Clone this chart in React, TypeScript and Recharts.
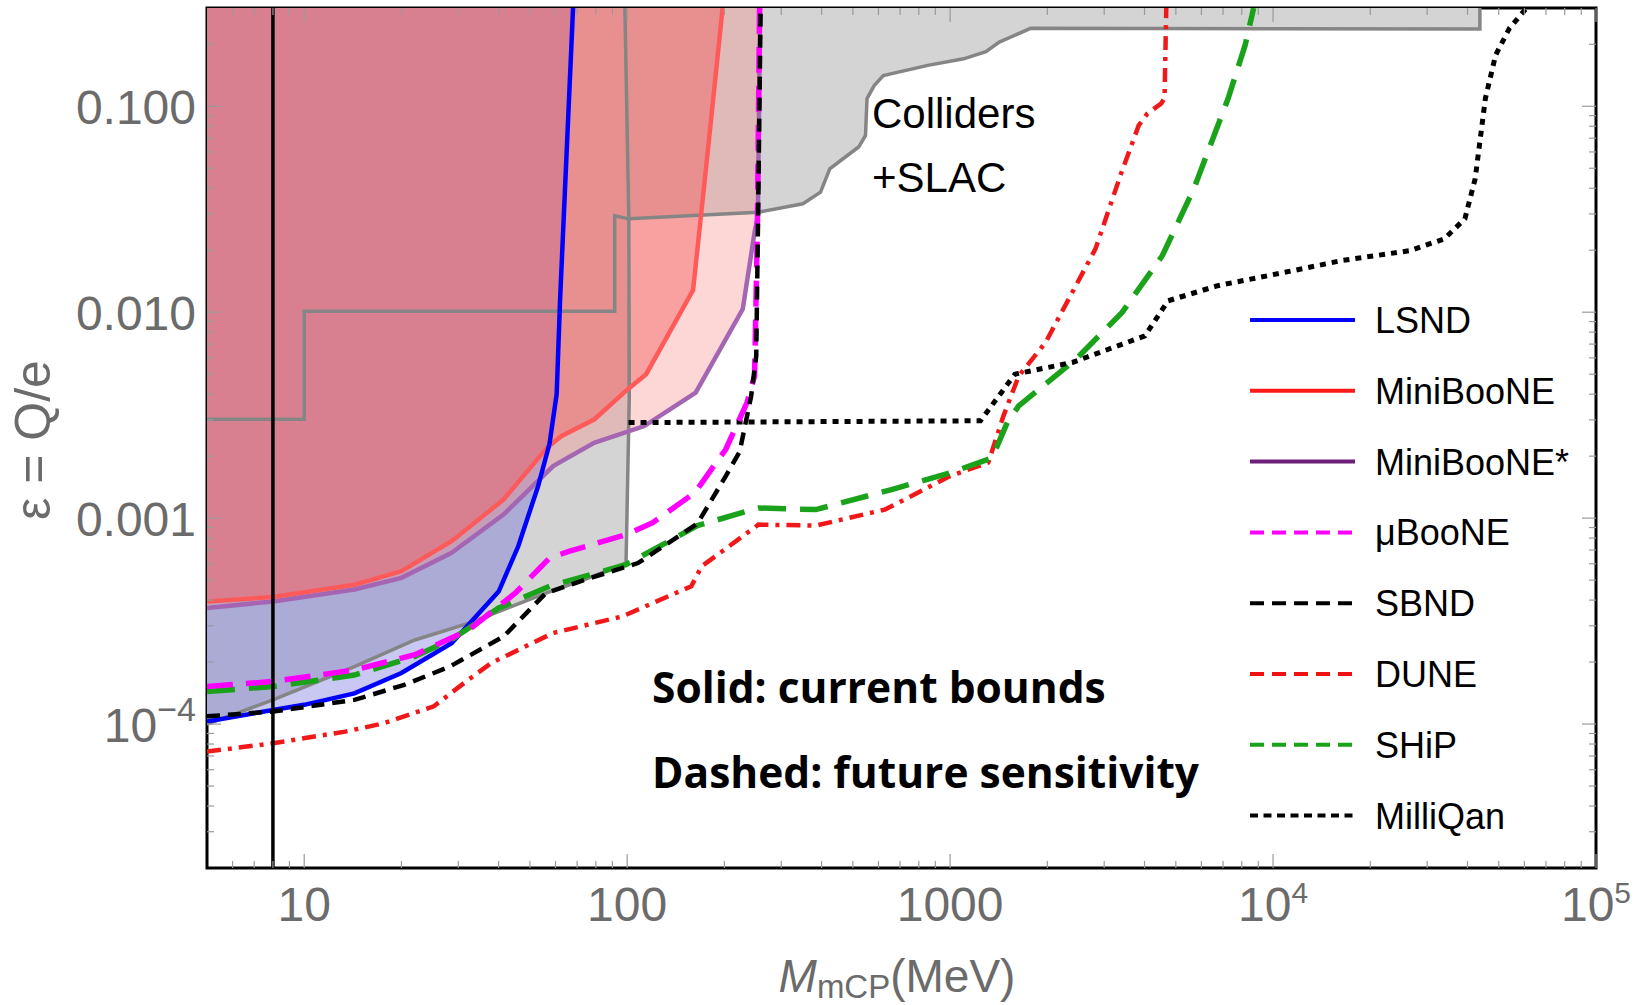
import React from "react";
import { ComposedChart, Area, Line, XAxis, YAxis, ReferenceLine, Customized } from "recharts";

// [mass in MeV, epsilon]
const EPS_TOP = 0.3;

const LSND = [[5, 1.03e-4], [8, 1.17e-4], [10, 1.24e-4], [14.3, 1.41e-4], [20, 1.77e-4], [28.6, 2.47e-4], [40, 4.4e-4], [46, 7.3e-4], [53, 1.43e-3], [57.5, 2.3e-3], [60.5, 4.0e-3], [62, 1.16e-2], [68, 0.3]];
const MINIBOONE = [[5, 3.94e-4], [8, 4.14e-4], [14.3, 4.75e-4], [20, 5.52e-4], [28.6, 7.72e-4], [41.4, 1.23e-3], [56.6, 2.2e-3], [62.5, 2.5e-3], [79.2, 3.02e-3], [100.5, 4.23e-3], [114.5, 5.0e-3], [160, 1.28e-2], [178, 6.2e-2], [197.5, 0.3]];
const MINIBOONE_STAR = [[5, 3.66e-4], [8, 3.94e-4], [14.3, 4.5e-4], [20, 5.13e-4], [28.6, 6.78e-4], [41.4, 1.04e-3], [59, 1.79e-3], [79, 2.32e-3], [113, 2.8e-3], [163, 4.07e-3], [228, 1.035e-2], [248, 2.44e-2], [254, 2.94e-2], [258, 0.3]];
const SLAC = [[5, 1.0e-4], [8, 1.31e-4], [14.3, 1.9e-4], [22, 2.56e-4], [32.4, 3.09e-4], [56, 4.32e-4], [73.4, 5.02e-4], [99.2, 6.05e-4], [101.5, 3.8e-3], [101.2, 2.84e-2], [98.4, 0.3]];
const COLLIDERS = [[5, 3.02e-3], [10, 3.02e-3], [10, 1.01e-2], [91.5, 1.01e-2], [91.5, 2.94e-2], [101, 2.84e-2], [255, 3.06e-2], [350, 3.36e-2], [397, 3.83e-2], [424, 4.97e-2], [466, 5.56e-2], [521, 6.34e-2], [547, 7.22e-2], [553, 0.109], [582, 0.126], [621, 0.141], [853, 0.158], [1101, 0.17], [1291, 0.184], [1420, 0.205], [1775, 0.239], [43700, 0.237], [43700, 0.3]];
const UBOONE = [[5, 1.52e-4], [8, 1.61e-4], [14.3, 1.83e-4], [22, 2.17e-4], [32.4, 2.87e-4], [45, 4.32e-4], [57.5, 6.4e-4], [66, 6.9e-4], [99, 8.3e-4], [120, 9.5e-4], [162, 1.33e-3], [202, 2.16e-3], [235, 3.64e-3], [248, 4.9e-3], [253, 2.5e-2], [257, 0.3]];
const SBND = [[5, 1.09e-4], [8, 1.15e-4], [14.3, 1.31e-4], [20.4, 1.55e-4], [28.2, 1.9e-4], [41.4, 2.66e-4], [56, 4.32e-4], [73.4, 5.0e-4], [108, 6.05e-4], [165, 9.4e-4], [202, 1.6e-3], [223, 2.1e-3], [242, 3.9e-3], [251, 6.1e-3], [254, 2.5e-2], [259, 0.3]];
const DUNE = [[5, 7.35e-5], [8, 8.07e-5], [13.4, 9.19e-5], [17.7, 1.01e-4], [25.2, 1.22e-4], [32.2, 1.64e-4], [38, 1.98e-4], [59, 2.77e-4], [96.5, 3.33e-4], [158, 4.67e-4], [170, 5.83e-4], [255, 9.3e-4], [384, 9.2e-4], [628, 1.1e-3], [1000, 1.6e-3], [1313, 1.86e-3], [1462, 3.13e-3], [1631, 4.9e-3], [1975, 7.13e-3], [2819, 2.03e-2], [3396, 4.79e-2], [3837, 8.07e-2], [4080, 9.2e-2], [4500, 0.103], [4613, 0.109], [4670, 0.3]];
const SHIP = [[5, 1.44e-4], [8, 1.52e-4], [14.3, 1.73e-4], [22, 2.13e-4], [29, 2.61e-4], [40, 3.66e-4], [57.5, 4.67e-4], [99, 5.94e-4], [165, 9.2e-4], [255, 1.12e-3], [384, 1.1e-3], [663, 1.38e-3], [1000, 1.66e-3], [1349, 1.96e-3], [1503, 2.91e-3], [1631, 3.51e-3], [2455, 5.92e-3], [3408, 9.97e-3], [4540, 1.88e-2], [5683, 3.97e-2], [7257, 0.109], [8195, 0.198], [8710, 0.3]];
const MILLIQAN = [[101, 2.91e-3], [1242, 2.97e-3], [1587, 5.0e-3], [2389, 5.7e-3], [4010, 7.67e-3], [4731, 1.136e-2], [6737, 1.345e-2], [12210, 1.62e-2], [16260, 1.78e-2], [26520, 1.99e-2], [33900, 2.27e-2], [39260, 2.84e-2], [42250, 4.44e-2], [45440, 0.109], [48870, 0.177], [53930, 0.239], [60970, 0.3]];
const NEFF_MASS = 8;

const xMajor = [10, 100, 1000, 10000, 100000];
const xMajorLabels = ["10", "100", "1000", "10^4", "10^5"];
const xMinor = [6, 7, 8, 9, 20, 30, 40, 50, 60, 70, 80, 90, 200, 300, 400, 500, 600, 700, 800, 900, 2000, 3000, 4000, 5000, 6000, 7000, 8000, 9000, 20000, 30000, 40000, 50000, 60000, 70000, 80000, 90000];
const yMajor = [1e-4, 1e-3, 1e-2, 1e-1];
const yMajorLabels = ["10^−4", "0.001", "0.010", "0.100"];
const yMinor = [3e-5, 4e-5, 5e-5, 6e-5, 7e-5, 8e-5, 9e-5, 2e-4, 3e-4, 4e-4, 5e-4, 6e-4, 7e-4, 8e-4, 9e-4, 2e-3, 3e-3, 4e-3, 5e-3, 6e-3, 7e-3, 8e-3, 9e-3, 0.02, 0.03, 0.04, 0.05, 0.06, 0.07, 0.08, 0.09, 0.2];

const legendNames = ["LSND", "MiniBooNE", "MiniBooNE*", "μBooNE", "SBND", "DUNE", "SHiP", "MilliQan"];
const legendColors = ["#0000ff", "#ff1a1a", "#6e1f7a", "#ff00ff", "#000000", "#ee1111", "#1aa31a", "#000000"];
const legendDash = ["", "", "", "14 8", "14 8", "14 8", "14 8", "8 5.5"];

const W = 1638;
const H = 1005;
const PL = 207;
const PT = 8;
const PR = 1596;
const PB = 868;
const FONT = "'Liberation Sans', Arial, sans-serif";
const TICK_COLOR = "#6b6b6b";

const pts = (arr: number[][]) => arr.map(([m, e]) => ({ m, e }));
const band = (arr: number[][]) => arr.map(([m, e]) => ({ m, band: [e, EPS_TOP] }));

const grayEdge = [...SLAC.slice(0, -1), ...COLLIDERS.filter((p) => p[0] > 102)];

const PowText = ({ label, x, y, anchor, supSize, supDy }: any) => {
  const [base, exp] = label.split("^");
  return (
    <text x={x} y={y} textAnchor={anchor} fontFamily={FONT} fontSize={48} fill={TICK_COLOR}>
      {base}
      {exp && (
        <tspan fontSize={supSize} dy={supDy}>
          {exp}
        </tspan>
      )}
    </text>
  );
};

const XTick = (props: any) => {
  const { x, payload } = props;
  const i = xMajor.indexOf(payload.value);
  const len = i >= 0 ? 14 : 7;
  return (
    <g>
      <line x1={x} x2={x} y1={PB} y2={PB - len} stroke="#9a9a9a" strokeWidth={1.2} />
      <line x1={x} x2={x} y1={PT} y2={PT + len} stroke="#9a9a9a" strokeWidth={1.2} />
      {i >= 0 && <PowText label={xMajorLabels[i]} x={x} y={921} anchor="middle" supSize={30} supDy={-18} />}
    </g>
  );
};

const YTick = (props: any) => {
  const { y, payload } = props;
  const i = yMajor.indexOf(payload.value);
  const len = i >= 0 ? 14 : 7;
  return (
    <g>
      <line x1={PL} x2={PL + len} y1={y} y2={y} stroke="#9a9a9a" strokeWidth={1.2} />
      <line x1={PR} x2={PR - len} y1={y} y2={y} stroke="#9a9a9a" strokeWidth={1.2} />
      {i >= 0 && <PowText label={yMajorLabels[i]} x={196} y={y + 18} anchor="end" supSize={34} supDy={-21} />}
    </g>
  );
};

const Annotations = () => (
  <g>
    <rect x={PL} y={PT} width={PR - PL} height={PB - PT} fill="none" stroke="#000" strokeWidth={3} />
    <text transform="translate(313,165) rotate(-90)" fontFamily={FONT} fontSize={42} fill="#000">
      N
      <tspan fontSize={30} dy={8}>
        eff
      </tspan>
    </text>
    <text x={872} y={128} fontFamily={FONT} fontSize={42} fill="#000">
      Colliders
    </text>
    <text x={872} y={192} fontFamily={FONT} fontSize={42} fill="#000">
      +SLAC
    </text>
    <text x={652} y={703} fontFamily="'Open Sans', sans-serif" fontWeight="bold" fontSize={42.5} fill="#000">
      Solid: current bounds
    </text>
    <text x={652} y={788} fontFamily="'Open Sans', sans-serif" fontWeight="bold" fontSize={42.5} fill="#000">
      Dashed: future sensitivity
    </text>
    <text transform="translate(50,440) rotate(-90)" textAnchor="middle" fontFamily={FONT} fontSize={50} fill={TICK_COLOR}>
      ε = Q/e
    </text>
    <text x={897} y={992} textAnchor="middle" fontFamily={FONT} fontSize={46} fill={TICK_COLOR}>
      <tspan fontStyle="italic">M</tspan>
      <tspan fontSize={33} dy={6}>
        mCP
      </tspan>
      <tspan dy={-6}>(MeV)</tspan>
    </text>
    {legendNames.map((name, i) => {
      const y = 320 + i * 70.8;
      return (
        <g key={name}>
          <line x1={1250} x2={1355} y1={y} y2={y} stroke={legendColors[i]} strokeWidth={4} strokeDasharray={legendDash[i] || undefined} />
          <text x={1375} y={y + 13} fontFamily={FONT} fontSize={36} fill="#000">
            {name}
          </text>
        </g>
      );
    })}
  </g>
);

export default function App() {
  return (
    <div style={{ width: W, height: H }}>
      <style>{"body{margin:0}"}</style>
      <ComposedChart width={W} height={H} margin={{ top: PT, right: W - PR, bottom: 7, left: 7 }}>
        <XAxis
          dataKey="m"
          type="number"
          scale="log"
          domain={[5, 100000]}
          allowDataOverflow
          ticks={[...xMajor, ...xMinor]}
          interval={0}
          tick={<XTick />}
          tickLine={false}
          axisLine={false}
          height={130}
        />
        <YAxis
          type="number"
          scale="log"
          domain={[2e-5, 0.3]}
          allowDataOverflow
          ticks={[...yMajor, ...yMinor]}
          interval={0}
          tick={<YTick />}
          tickLine={false}
          axisLine={false}
          width={200}
        />
        <Area data={band(grayEdge)} dataKey="band" type="linear" stroke="none" fill="#d4d4d4" fillOpacity={1} isAnimationActive={false} />
        <Area data={band(LSND)} dataKey="band" type="linear" stroke="none" fill="rgb(83,83,214)" fillOpacity={0.32} isAnimationActive={false} />
        <Area data={band(MINIBOONE_STAR)} dataKey="band" type="linear" stroke="none" fill="rgb(249,137,135)" fillOpacity={0.34} isAnimationActive={false} />
        <Area data={band(MINIBOONE)} dataKey="band" type="linear" stroke="none" fill="rgb(243,85,83)" fillOpacity={0.41} isAnimationActive={false} />
        <Line data={pts(COLLIDERS)} dataKey="e" type="linear" stroke="#858585" strokeWidth={3.5} dot={false} activeDot={false} isAnimationActive={false} />
        <Line data={pts(SLAC)} dataKey="e" type="linear" stroke="#858585" strokeWidth={3.5} dot={false} activeDot={false} isAnimationActive={false} />
        <Line data={pts(MINIBOONE_STAR)} dataKey="e" type="linear" stroke="#a466b3" strokeWidth={4.5} dot={false} activeDot={false} isAnimationActive={false} />
        <Line data={pts(MINIBOONE)} dataKey="e" type="linear" stroke="#ff5a5a" strokeWidth={4.5} dot={false} activeDot={false} isAnimationActive={false} />
        <Line data={pts(LSND)} dataKey="e" type="linear" stroke="#0000ff" strokeWidth={4.5} dot={false} activeDot={false} isAnimationActive={false} />
        <Line data={pts(DUNE)} dataKey="e" type="linear" stroke="#f01818" strokeWidth={4.5} strokeDasharray="14 7 4 7" dot={false} activeDot={false} isAnimationActive={false} />
        <Line data={pts(SHIP)} dataKey="e" type="linear" stroke="#1aa31a" strokeWidth={5.5} strokeDasharray="28 14" dot={false} activeDot={false} isAnimationActive={false} />
        <Line data={pts(MILLIQAN)} dataKey="e" type="linear" stroke="#000" strokeWidth={5} strokeDasharray="6 6" dot={false} activeDot={false} isAnimationActive={false} />
        <Line data={pts(UBOONE)} dataKey="e" type="linear" stroke="#ff00ff" strokeWidth={5.5} strokeDasharray="26 13" dot={false} activeDot={false} isAnimationActive={false} />
        <Line data={pts(SBND)} dataKey="e" type="linear" stroke="#000" strokeWidth={4.5} strokeDasharray="13 8" dot={false} activeDot={false} isAnimationActive={false} />
        <ReferenceLine x={NEFF_MASS} stroke="#000" strokeWidth={3.5} />
        <Customized component={<Annotations />} />
      </ComposedChart>
    </div>
  );
}
